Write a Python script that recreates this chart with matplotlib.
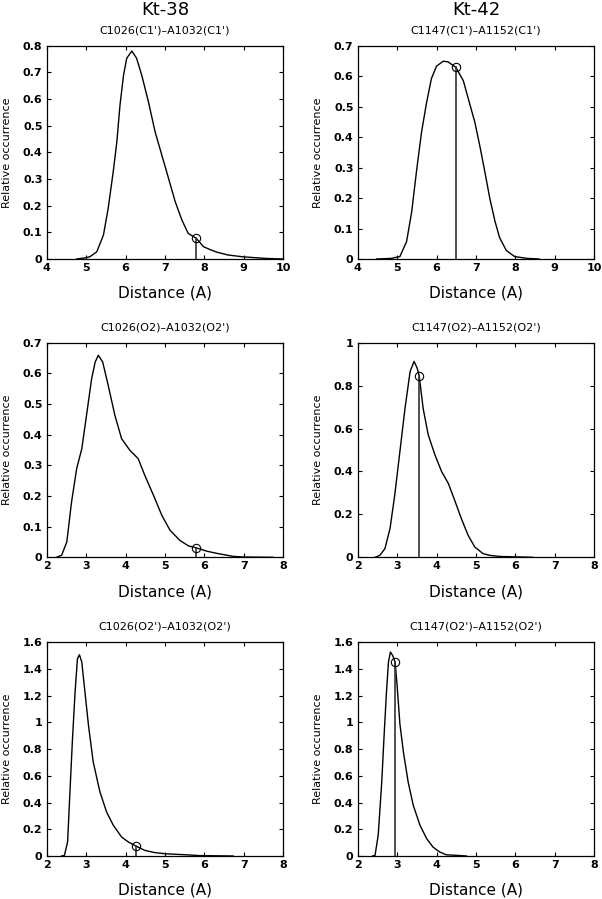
import matplotlib
matplotlib.use("Agg")
import matplotlib.pyplot as plt

# ---- data ----
col_titles = ["Kt-38", "Kt-42"]
panel_titles = ["C1026(C1')\u2013A1032(C1')", "C1147(C1')\u2013A1152(C1')",
                "C1026(O2)\u2013A1032(O2')", "C1147(O2)\u2013A1152(O2')",
                "C1026(O2')\u2013A1032(O2')", "C1147(O2')\u2013A1152(O2')"]

x1 = [4.76, 5.01, 5.10, 5.27, 5.44, 5.56, 5.69, 5.78, 5.86, 5.95, 6.03, 6.16, 6.28, 6.41,
      6.58, 6.75, 6.92, 7.09, 7.26, 7.43, 7.59, 7.79, 7.98, 8.15, 8.31, 8.60, 8.99, 9.58, 10.0]
y1 = [0.0, 0.005, 0.009, 0.027, 0.09, 0.19, 0.33, 0.44, 0.578, 0.69, 0.753, 0.78, 0.753, 0.69,
      0.59, 0.477, 0.39, 0.303, 0.215, 0.146, 0.096, 0.078, 0.046, 0.035, 0.026, 0.015, 0.008, 0.002, 0.0]

x2 = [4.48, 4.85, 5.07, 5.24, 5.37, 5.49, 5.62, 5.75, 5.87, 6.00, 6.17, 6.29, 6.49, 6.68,
      6.84, 6.97, 7.10, 7.22, 7.35, 7.48, 7.60, 7.77, 7.98, 8.30, 8.60]
y2 = [0.0, 0.002, 0.008, 0.057, 0.155, 0.286, 0.417, 0.515, 0.592, 0.633, 0.649, 0.647, 0.629, 0.585,
      0.51, 0.45, 0.37, 0.29, 0.20, 0.125, 0.07, 0.028, 0.008, 0.002, 0.0]

x3 = [2.25, 2.38, 2.51, 2.63, 2.76, 2.89, 3.01, 3.14, 3.23, 3.31, 3.42, 3.56, 3.73, 3.90,
      4.11, 4.32, 4.49, 4.71, 4.92, 5.13, 5.38, 5.60, 5.79, 6.06, 6.31, 6.73, 6.99, 7.75]
y3 = [0.0, 0.007, 0.05, 0.18, 0.289, 0.354, 0.463, 0.583, 0.637, 0.659, 0.637, 0.561, 0.463, 0.387,
      0.349, 0.322, 0.267, 0.202, 0.137, 0.088, 0.055, 0.037, 0.031, 0.02, 0.013, 0.003, 0.001, 0.0]

x4 = [2.44, 2.56, 2.69, 2.82, 2.94, 3.07, 3.20, 3.33, 3.43, 3.51, 3.56, 3.66, 3.79, 3.96,
      4.13, 4.30, 4.46, 4.63, 4.80, 4.97, 5.18, 5.35, 5.60, 6.03, 6.45]
y4 = [0.0, 0.009, 0.04, 0.134, 0.29, 0.492, 0.694, 0.866, 0.913, 0.881, 0.846, 0.694, 0.57, 0.477,
      0.399, 0.344, 0.266, 0.18, 0.103, 0.048, 0.017, 0.009, 0.004, 0.002, 0.0]

x5 = [2.38, 2.45, 2.53, 2.59, 2.65, 2.72, 2.78, 2.83, 2.89, 2.97, 3.06, 3.18, 3.35, 3.52,
      3.69, 3.90, 4.07, 4.26, 4.49, 4.75, 5.00, 5.47, 5.89, 6.73]
y5 = [0.0, 0.005, 0.105, 0.48, 0.853, 1.228, 1.477, 1.507, 1.452, 1.228, 0.978, 0.704, 0.48, 0.329,
      0.23, 0.142, 0.105, 0.075, 0.042, 0.025, 0.017, 0.01, 0.003, 0.0]

x6 = [2.38, 2.44, 2.52, 2.61, 2.67, 2.73, 2.78, 2.83, 2.89, 2.95, 3.00, 3.07, 3.16, 3.28,
      3.41, 3.58, 3.75, 3.91, 4.08, 4.25, 4.51, 4.76]
y6 = [0.0, 0.005, 0.155, 0.554, 0.903, 1.228, 1.452, 1.527, 1.50, 1.45, 1.277, 0.99, 0.778, 0.554,
      0.379, 0.23, 0.13, 0.067, 0.03, 0.009, 0.005, 0.0]

marker_x = [7.79, 6.49, 5.79, 3.56, 4.26, 2.95]
marker_y = [0.078, 0.629, 0.031, 0.846, 0.075, 1.45]

xlims = [(4, 10), (4, 10), (2, 8), (2, 8), (2, 8), (2, 8)]
ylims = [(0, 0.8), (0, 0.7), (0, 0.7), (0, 1.0), (0, 1.6), (0, 1.6)]
yticks = [[0, 0.1, 0.2, 0.3, 0.4, 0.5, 0.6, 0.7, 0.8],
          [0, 0.1, 0.2, 0.3, 0.4, 0.5, 0.6, 0.7],
          [0, 0.1, 0.2, 0.3, 0.4, 0.5, 0.6, 0.7],
          [0, 0.2, 0.4, 0.6, 0.8, 1.0],
          [0, 0.2, 0.4, 0.6, 0.8, 1.0, 1.2, 1.4, 1.6],
          [0, 0.2, 0.4, 0.6, 0.8, 1.0, 1.2, 1.4, 1.6]]
ytick_labels = [["0", "0.1", "0.2", "0.3", "0.4", "0.5", "0.6", "0.7", "0.8"],
                ["0", "0.1", "0.2", "0.3", "0.4", "0.5", "0.6", "0.7"],
                ["0", "0.1", "0.2", "0.3", "0.4", "0.5", "0.6", "0.7"],
                ["0", "0.2", "0.4", "0.6", "0.8", "1"],
                ["0", "0.2", "0.4", "0.6", "0.8", "1", "1.2", "1.4", "1.6"],
                ["0", "0.2", "0.4", "0.6", "0.8", "1", "1.2", "1.4", "1.6"]]

xs = [x1, x2, x3, x4, x5, x6]
ys = [y1, y2, y3, y4, y5, y6]

# ---- layout ----
W, H = 602, 899
fig = plt.figure(figsize=(W / 100, H / 100), dpi=100)
lefts = [46.7, 357.7]
width = 236.5
tops = [45.7, 342.7, 642.3]
bottoms = [259.0, 557.3, 856.0]

for i in range(6):
    r, c = divmod(i, 2)
    l = lefts[c]
    t, b = tops[r], bottoms[r]
    ax = fig.add_axes([l / W, 1 - b / H, width / W, (b - t) / H])
    ax.plot(xs[i], ys[i], color="black", lw=1.0, solid_joinstyle="round")
    ax.plot([marker_x[i], marker_x[i]], [0, marker_y[i]], color="#333333", lw=1.2)
    ax.plot([marker_x[i]], [marker_y[i]], marker="o", ms=6, mfc="none",
            mec="black", mew=0.8)
    ax.set_xlim(*xlims[i])
    ax.set_ylim(*ylims[i])
    x0, x1_ = xlims[i]
    ax.set_xticks(list(range(x0, x1_ + 1)))
    ax.set_xticklabels([str(v) for v in range(x0, x1_ + 1)])
    ax.set_yticks(yticks[i])
    ax.set_yticklabels(ytick_labels[i])
    ax.tick_params(direction="in", length=3, width=0.8, top=True, right=True,
                   labelsize=8, pad=3)
    for lab in ax.get_xticklabels() + ax.get_yticklabels():
        lab.set_fontweight("bold")
    for sp in ax.spines.values():
        sp.set_linewidth(0.9)
    ax.set_title(panel_titles[i], fontsize=8, pad=9)
    ax.set_xlabel("Distance (A)", fontsize=11)
    ax.xaxis.set_label_coords(0.5, -0.125)
    ax.set_ylabel("Relative occurrence", fontsize=8)
    ax.yaxis.set_label_coords(-0.145, 0.5)
    if r == 0:
        ax.text(0.5, 1.0 + 36 / (b - t), col_titles[c], transform=ax.transAxes,
                ha="center", va="center", fontsize=13)

fig.savefig("out.png", dpi=100)
